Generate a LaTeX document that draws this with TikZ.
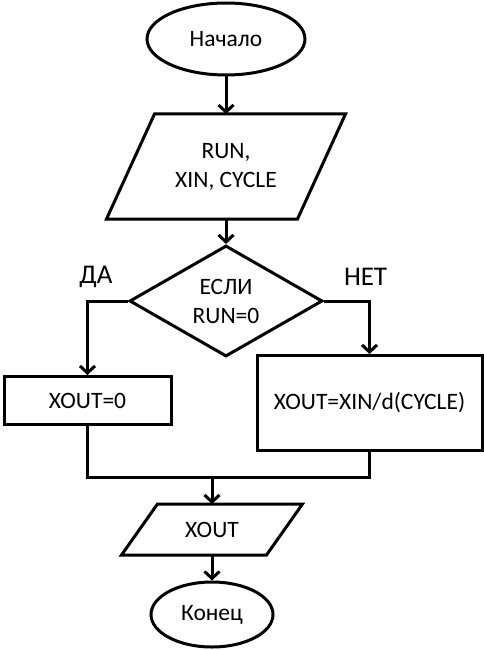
\documentclass[tikz,border=0pt]{standalone}
\usepackage{fontspec}
\setmainfont{Carlito}
\usetikzlibrary{shapes.geometric,arrows.meta}

\begin{document}
\begin{tikzpicture}[x=1pt, y=-1pt, line width=3pt,
    font=\fontsize{23.5}{29}\selectfont,
    >={Straight Barb[length=7pt,width=15pt]},
    term/.style={draw, ellipse, inner sep=0pt},
    io/.style={rectangle, inner sep=0pt, align=center},
    proc/.style={draw, rectangle, inner sep=0pt, align=center},
    cond/.style={draw, diamond, inner sep=0pt, align=center},
    branch/.style={inner sep=0pt, font=\fontsize{27}{32}\selectfont}]
    \useasboundingbox (0, 0) rectangle (484, 650);

    \node[term, minimum width=158pt, minimum height=72pt] (start) at (226, 39) {Начало};
    \node[io, minimum width=188pt, minimum height=102pt] (in) at (226, 166.5) {RUN,\\XIN, CYCLE};
    \node[cond, minimum width=193pt, minimum height=106pt] (if) at (226, 301) {ЕСЛИ\\RUN=0};
    \node[proc, minimum width=167pt, minimum height=48pt] (yes) at (87.5, 400.5) {XOUT=0};
    \node[proc, minimum width=225pt, minimum height=95pt] (no) at (369.5, 403) {XOUT=XIN/d(CYCLE)};
    \node[io, minimum width=142pt, minimum height=48pt] (out) at (212, 529.5) {XOUT};
    \node[term, minimum width=122pt, minimum height=65pt] (stop) at (212, 614.5) {Конец};
    \coordinate (merge) at (212, 477);
    \node[branch] (da) at (96, 277) {ДА};
    \node[branch] (net) at (365.5, 277) {НЕТ};

    % parallelograms
    \draw ([xshift=24pt]in.north west) -- ([xshift=24pt]in.north east)
        -- ([xshift=-24pt]in.south east) -- ([xshift=-24pt]in.south west) -- cycle;
    \draw ([xshift=18pt]out.north west) -- ([xshift=18pt]out.north east)
        -- ([xshift=-18pt]out.south east) -- ([xshift=-18pt]out.south west) -- cycle;

    \draw[->] (start) -- (in); % input
    \draw[->] (in) -- (if);
    \draw[->] (if.west) -| (yes.north); % yes
    \draw[->] (if.east) -| (no.north); % no
    \draw (yes.south) |- (merge) -| (no.south); % join
    \draw[->] (merge) -- (out);
    \draw[->] (out) -- (stop); % end
\end{tikzpicture}
\end{document}
